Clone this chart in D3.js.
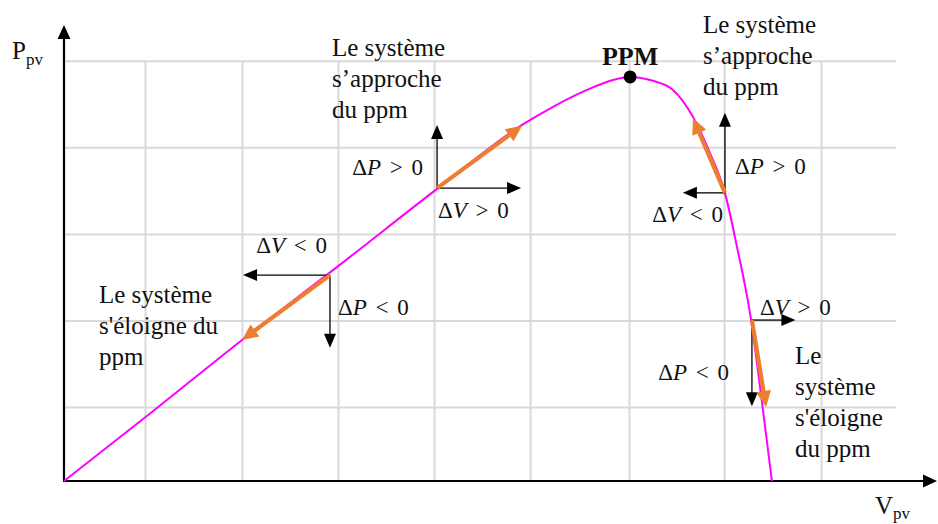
<!DOCTYPE html>
<html>
<head>
<meta charset="utf-8">
<script src="https://cdn.jsdelivr.net/npm/d3@7"></script>
<style>
  body { margin: 0; background: #fff; }
  text { font-family: "Liberation Serif", "Times New Roman", serif; fill: #111; }
</style>
</head>
<body>
<script>
// grid positions (arbitrary units)
const vGrid = [4.2, 9.2, 14.15, 19.1, 24.05, 29.15, 34.05, 39.05];
const pGrid = [17, 37, 57, 77, 97];

// P-V curve
const curveV = [0, 4.6, 9.18, 14.2, 19.28, 23.61, 25.21, 26.96, 28.3, 29.18, 30.36, 31.39, 32.42, 33.3, 34.07, 34.69, 35.36, 36.03, 36.49];
const curveP = [0, 16.2, 32.6, 49.9, 67.7, 82.3, 86.5, 90.4, 92.7, 93.4, 92.5, 90.4, 84.2, 75.8, 66.6, 54.1, 38.8, 16.4, 0];

// perturbation steps: start point on curve, end of orange arrow
const stepStart = [[19.23, 67.7], [34.07, 66.6], [13.71, 47.6], [35.46, 37.2]];
const stepEnd = [[23.61, 82.1], [32.42, 83.9], [9.18, 32.6], [36.19, 17.1]];
// black component arrows
const dvEnd = [23.56, 31.9, 9.23, 37.7];
const dpEnd = [82.3, 85.1, 30.8, 17.3];
const dvLabels = ["ΔV > 0", "ΔV < 0", "ΔV < 0", "ΔV > 0"];
const dpLabels = ["ΔP > 0", "ΔP > 0", "ΔP < 0", "ΔP < 0"];

const notes = [
  ["Le système", "s’approche", "du ppm"],
  ["Le système", "s’approche", "du ppm"],
  ["Le système", "s'éloigne du", "ppm"],
  ["Le", "système", "s'éloigne", "du ppm"]
];

const width = 938;
const height = 524;

const svg = d3.select('body').append('svg')
  .attr('width', width)
  .attr('height', height);

const x = d3.scaleLinear().domain([0, 45]).range([64, 937]);
const y = d3.scaleLinear().domain([0, 105.4]).range([481, 25]);

const orange = '#ED7D31';

// grid
svg.append('g').selectAll('line')
  .data(pGrid)
  .join('line')
  .attr('x1', x(0)).attr('x2', x(42.9))
  .attr('y1', d => y(d)).attr('y2', d => y(d))
  .attr('stroke', '#d9d9d9').attr('stroke-width', 2);

svg.append('g').selectAll('line')
  .data(vGrid)
  .join('line')
  .attr('x1', d => x(d)).attr('x2', d => x(d))
  .attr('y1', y(97)).attr('y2', y(0))
  .attr('stroke', '#d9d9d9').attr('stroke-width', 2);

// draws a line with a filled triangular head, in pixel space
function arrow(g, x0, y0, x1, y1, color, sw, hl, hw) {
  const dx = x1 - x0, dy = y1 - y0;
  const len = Math.sqrt(dx * dx + dy * dy);
  const ux = dx / len, uy = dy / len;
  const bx = x1 - ux * hl, by = y1 - uy * hl;
  g.append('line')
    .attr('x1', x0).attr('y1', y0)
    .attr('x2', bx + ux * 1).attr('y2', by + uy * 1)
    .attr('stroke', color).attr('stroke-width', sw);
  g.append('path')
    .attr('d', `M${x1},${y1}L${bx - uy * hw / 2},${by + ux * hw / 2}L${bx + uy * hw / 2},${by - ux * hw / 2}Z`)
    .attr('fill', color);
}

// axes
const axes = svg.append('g');
arrow(axes, x(0), y(0), x(0), y(105.4), '#000', 2.2, 14, 13);
arrow(axes, x(0) - 1, y(0), x(45), y(0), '#000', 2.2, 14, 13);

// curve
const pts = curveV.map((v, i) => [v, curveP[i]]);
const line = d3.line()
  .x(d => x(d[0]))
  .y(d => y(d[1]))
  .curve(d3.curveMonotoneX);

svg.append('path')
  .datum(pts)
  .attr('d', line)
  .attr('fill', 'none')
  .attr('stroke', '#ff00ff')
  .attr('stroke-width', 2);

// PPM
const ppm = pts[d3.maxIndex(curveP)];
svg.append('circle')
  .attr('cx', x(ppm[0])).attr('cy', y(ppm[1]))
  .attr('r', 6.5).attr('fill', '#000');
svg.append('text')
  .attr('x', x(ppm[0])).attr('y', y(ppm[1]) - 12)
  .attr('text-anchor', 'middle')
  .attr('font-weight', 'bold')
  .attr('font-size', 26)
  .text('PPM');

// steps
const steps = svg.append('g');
stepStart.forEach((s, i) => {
  arrow(steps, x(s[0]), y(s[1]), x(dvEnd[i]), y(s[1]), '#000', 1.3, 14, 12);
  arrow(steps, x(s[0]), y(s[1]), x(s[0]), y(dpEnd[i]), '#000', 1.3, 14, 12);
  arrow(steps, x(s[0]), y(s[1]), x(stepEnd[i][0]), y(stepEnd[i][1]), orange, 4.2, 16, 15);
});

// math labels
const dvPos = [[438, 218, 'start'], [723, 222, 'end'], [327, 253, 'end'], [760, 315, 'start']];
const dpPos = [[423, 175, 'end'], [735, 174, 'start'], [338, 315, 'start'], [729, 380, 'end']];

function mathLabel(str, p) {
  const t = svg.append('text')
    .attr('x', p[0]).attr('y', p[1])
    .attr('text-anchor', p[2])
    .attr('font-size', 23)
    .attr('word-spacing', 3)
    .attr('xml:space', 'preserve');
  t.append('tspan').text(str[0]);
  t.append('tspan').attr('font-style', 'italic').text(str[1]);
  t.append('tspan').text(str.slice(2));
}
dvLabels.forEach((s, i) => mathLabel(s, dvPos[i]));
dpLabels.forEach((s, i) => mathLabel(s, dpPos[i]));

// text blocks
const notePos = [[332, 56], [703, 33], [99, 303], [795, 364]];
notes.forEach((lines, i) => {
  const t = svg.append('text')
    .attr('x', notePos[i][0]).attr('y', notePos[i][1])
    .attr('font-size', 25);
  t.selectAll('tspan')
    .data(lines)
    .join('tspan')
    .attr('x', notePos[i][0])
    .attr('dy', (d, j) => j ? 31 : 0)
    .text(d => d);
});

// axis titles
const py = svg.append('text').attr('x', 12).attr('y', 59).attr('font-size', 25);
py.append('tspan').text('P');
py.append('tspan').attr('font-size', 17).attr('dy', 6).text('pv');

const vx = svg.append('text').attr('x', 875).attr('y', 514).attr('font-size', 25);
vx.append('tspan').text('V');
vx.append('tspan').attr('font-size', 17).attr('dy', 5).text('pv');
</script>
</body>
</html>
